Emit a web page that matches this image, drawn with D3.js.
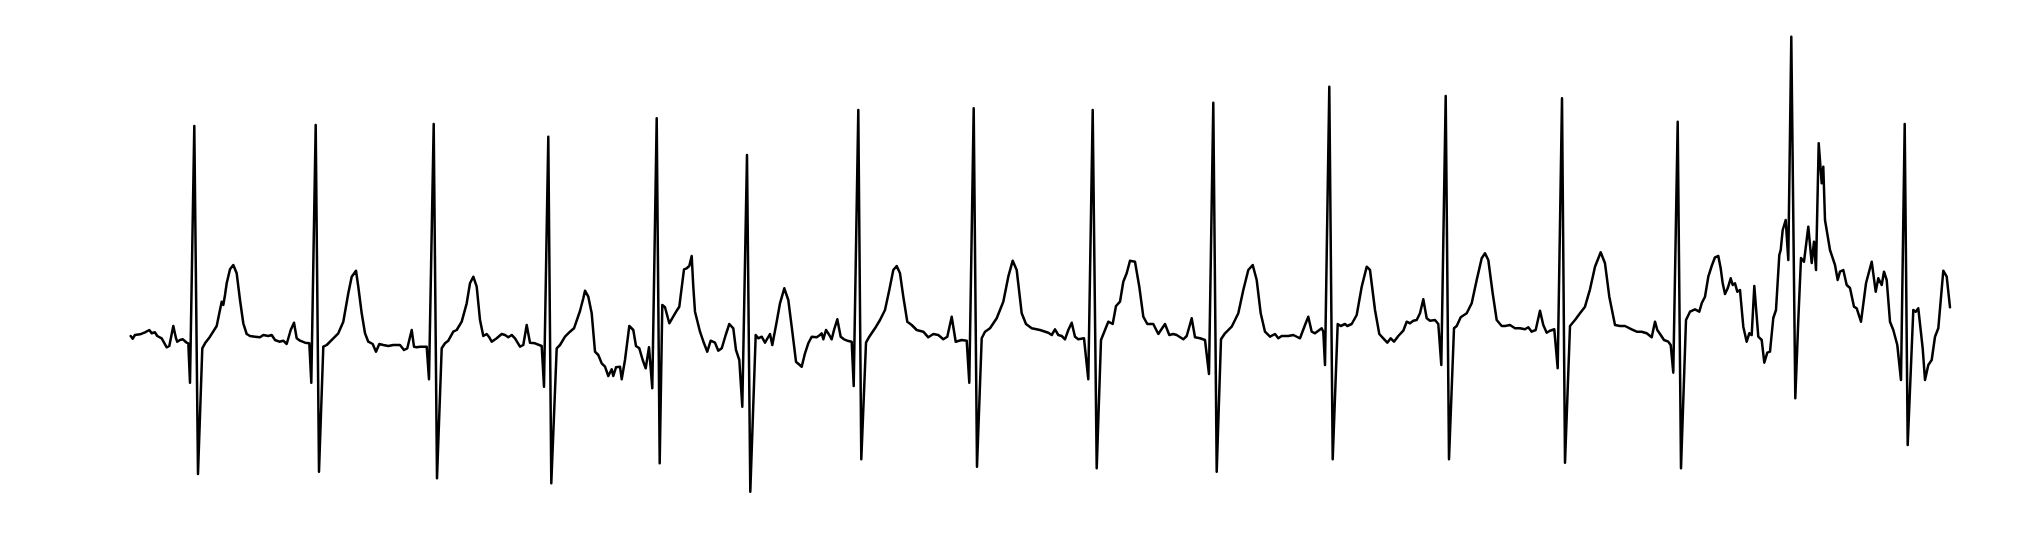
<!DOCTYPE html>
<html>
<head>
<meta charset="utf-8">
<script src="https://cdn.jsdelivr.net/npm/d3@7"></script>
<style>
html,body{margin:0;padding:0;background:#fff;}
svg{display:block;}
</style>
</head>
<body>
<svg id="chart" width="2044" height="538"></svg>
<script>
// ECG trace: sample index (time) and amplitude (mV)
const sampleIndex = [
0.7,2.7,5,10,15,19.3,21.7,25,27.3,31.7,36.7,39.3,43.3,46,47.3,50,52.7,56.7,58.3,60,64.3,68,72.3,75,80,86.7,89.3,91.7,93.3,95,96.7,100,103.3,106.7,110,113.3,116.7,120,125,130,133.3,138.3,141.7,145,149.3,153.3,156.7,160.7,164,166.7,170,175,179.3,181.3,185.7,189,193.3,196.7,203.3,208.3,213.3,218.3,221.7,226,
228.3,231.7,235,238.3,242.7,246,249.3,253.3,258.3,263.3,270,274,277.3,281.7,284,286.7,290,296.7,299,303.7,307,311.7,315,318.3,323.3,326.7,331.7,336.7,340,343.3,346.7,350,353.3,356.7,359.3,361.7,366.7,371.7,375,378.3,381.7,385,390,393.3,396.7,400,405,411.7,414,418.3,421.3,426.7,430,435,440,444,450,453.3,
455,458.3,461.7,465,468.3,471.7,475,478.3,481.7,483.3,486,490,491.7,495,499.3,503.3,506,509.3,512.7,515.7,519,522.3,526.7,529.7,532.3,535,539.3,546.7,549.3,554,556.7,559.3,561.7,563.3,565,570,574,577.3,580.7,585,588.3,591.7,595.7,599.3,603.3,606,609.3,612.3,617,620.3,625.7,628.3,631.7,635,640,642.3,646.7,650,654.3,658.3,661.7,666,671.7,675,678.3,681.7,686.7,690,
691.7,693.3,696,699.3,701.7,704,707.3,710.7,714,717.3,721.7,723.7,728.3,731.3,736,739.3,745,750,755,759.3,763.3,766.7,770,773.3,777.3,781.7,786.7,793.3,798.3,803.3,808.3,813.3,817.3,821.7,825.7,831.7,836.7,839.3,843.7,847,851.7,855,860,866.7,873.3,878.3,882.7,886.7,891.7,896,901.7,910,918.3,
921.7,925,928.3,931.7,935,938.3,941.7,945,948.3,954,958.3,962.7,966.7,971,975,978.3,982.7,986,990,993.3,996.7,1000,1005,1009.3,1013.3,1017.3,1023.3,1028.3,1035,1039.3,1043.3,1046.7,1053.3,1056.7,1061.7,1065,1070,1075,1079,1083.3,1086.7,1091,1095,1101.7,1108.3,1113.3,1118.3,1122.7,1126.7,1130.7,1135,1140,1145,1148.3,
1151.7,1158.3,1163.3,1170,1175,1178.3,1181.7,1185,1191.7,1193.3,1195,1199.3,1202.7,1207.7,1210.7,1215,1217.3,1221.7,1226.7,1231.7,1236.7,1240,1245,1249.3,1253.3,1257.3,1260.7,1264,1268.3,1273.3,1276.7,1280,1283.3,1286.7,1290,1293.3,1296.7,1300,1305,1308.3,1311.3,1315.7,1319,1324,1326.7,1330.7,1336.7,1341.7,1346.7,1351.7,1355,1358.3,1362.7,1366.7,1371.7,
1375,1380,1385,1390,1395,1398.3,1401.7,1405.7,1410,1413.3,1416.7,1420,1424.3,1427.7,1432,1435,1440,1445,1450,1455,1460,1465,1470.7,1475,1479.3,1485,1490,1495,1501.7,1506.7,1511.7,1516.7,1521.7,1525,1527.3,1530.7,1534,1538.3,1540.7,1543.3,1547.7,1551,1556,1560,1565,1569.3,1571.7,1575,1578.3,1581.7,1585,1588.3,1590.7,1592.7,1595,1597.7,1600.7,
1602.7,1605,1607.3,1610,1613.3,1616.7,1619.3,1621.7,1624.3,1628.3,1631.7,1634.3,1637.3,1640,1643.3,1646,1649.3,1650.7,1652.7,1655.7,1658.3,1661.3,1665.3,1668.3,1671,1674,1678.3,1681.7,1684,1686,1688.7,1691.7,1693.3,1695,1700,1705,1707.7,1710,1713.3,1716.7,1720,1724,1726.7,1731,1736,1741.7,1745.7,1748.3,1751.7,1754,1756.7,1760,1763.3,1767.3,1771,1774.7,1777.7,1783.3,1785.7,1788.3,1792.7,1795,1798.3,1801.7,1805,1808.3,1813.3,1816.7,1820
];
const amplitudeMv = [
0.02,-0.007,0.03,0.037,0.057,0.08,0.047,0.057,0.02,-0.003,-0.093,-0.08,0.12,-0.003,-0.037,-0.02,-0.013,-0.047,-0.053,-0.447,2.12,-1.36,-0.103,-0.053,0.013,0.12,0.247,0.363,0.33,0.43,0.547,0.687,0.73,0.647,0.38,0.147,0.04,0.02,0.013,0.007,0.03,0.02,0.03,-0.02,-0.037,-0.027,-0.06,0.08,0.153,-0.003,-0.027,-0.047,-0.053,-0.447,2.13,-1.337,-0.087,-0.07,-0.003,0.047,0.163,0.447,0.613,0.673,
0.513,0.247,0.047,-0.037,-0.06,-0.137,-0.06,-0.07,-0.08,-0.07,-0.07,-0.12,-0.103,0.08,-0.087,-0.093,-0.087,-0.087,-0.413,2.14,-1.403,-0.103,-0.053,-0.027,0.063,0.08,0.163,0.347,0.547,0.613,0.513,0.18,0.02,0.04,0.007,-0.037,-0.003,0.04,0.03,0.007,0.03,-0.003,-0.087,-0.07,0.13,-0.047,-0.053,-0.08,-0.487,2.013,-1.453,-0.103,-0.07,0.013,0.063,0.097,0.27,0.397,
0.473,0.413,0.247,-0.137,-0.17,-0.253,-0.287,-0.38,-0.313,-0.38,-0.293,-0.287,-0.413,-0.22,0.12,0.08,-0.08,-0.103,-0.22,-0.303,-0.093,-0.503,2.197,-1.253,0.33,0.307,0.147,0.273,0.313,0.687,0.697,0.72,0.82,0.513,0.263,0.063,-0.053,-0.137,-0.027,-0.047,-0.127,-0.103,0.03,0.14,0.097,-0.12,-0.22,-0.687,1.83,-1.537,0.03,-0.003,0.013,-0.047,0.04,-0.07,0.163,0.347,0.497,0.38,0.113,-0.237,-0.287,-0.153,-0.053,0.013,0.007,0.03,
0.047,-0.013,0.08,0.03,-0.013,0.08,0.187,0.013,-0.013,-0.027,-0.037,-0.48,2.28,-1.213,-0.047,0.013,0.097,0.18,0.28,0.48,0.68,0.72,0.647,0.413,0.163,0.13,0.08,0.063,0.007,0.04,0.03,-0.013,0.013,0.213,-0.037,-0.02,-0.027,-0.447,2.297,-1.287,-0.003,0.063,0.097,0.197,0.363,0.613,0.773,0.68,0.247,0.14,0.097,0.08,0.053,
0.03,0.087,0.03,0.02,-0.013,0.08,0.153,0.013,-0.013,-0.003,-0.413,2.28,-1.303,-0.02,0.08,0.163,0.14,0.32,0.363,0.563,0.647,0.773,0.763,0.513,0.213,0.14,0.14,0.04,0.14,0.03,0.04,0.03,-0.013,0.02,0.197,0.007,-0.003,-0.02,-0.36,2.353,-1.337,-0.013,0.047,0.113,0.247,0.48,0.68,0.73,0.58,0.247,0.063,0.013,0.04,-0.003,
0.02,0.02,0.03,-0.003,0.13,0.213,0.063,0.047,0.097,0.063,-0.27,2.513,-1.213,0.14,0.12,0.14,0.12,0.14,0.23,0.513,0.713,0.68,0.28,0.04,-0.003,-0.047,-0.003,-0.037,0.02,0.073,0.163,0.147,0.173,0.18,0.247,0.387,0.197,0.173,0.18,0.14,-0.27,2.42,-1.213,0.097,0.12,0.207,0.247,0.347,0.58,0.797,0.847,0.78,0.447,0.18,0.12,
0.12,0.13,0.097,0.097,0.087,0.107,0.063,0.08,0.273,0.13,0.053,0.073,0.087,-0.303,2.397,-1.247,0.12,0.18,0.247,0.313,0.487,0.713,0.857,0.747,0.413,0.13,0.12,0.12,0.087,0.063,0.063,0.047,0.007,0.163,0.08,0.03,-0.02,-0.037,-0.07,-0.347,2.163,-1.303,0.18,0.263,0.287,0.263,0.347,0.413,0.613,0.72,0.807,0.82,0.697,0.547,0.44,0.497,0.597,
0.53,0.547,0.463,0.48,0.113,-0.037,0.047,0.03,0.52,0.013,-0.02,-0.247,-0.147,-0.137,0.2,0.28,0.83,0.88,1.08,1.18,0.78,3.013,-0.603,0.18,0.8,0.763,1.113,0.75,0.963,0.68,1.947,1.547,1.713,1.18,0.88,0.73,0.58,0.663,0.68,0.53,0.5,0.313,0.297,0.163,0.547,0.763,0.463,0.597,0.53,0.663,0.58,0.163,0.08,-0.07,-0.42,2.14,-1.07,0.28,0.263,0.297,-0.103,-0.42,-0.27,-0.22,0.013,0.097,0.673,0.613,0.307
];

const W = 2044, H = 538;
const svg = d3.select('#chart');
const x = d3.scaleLinear().domain([0, 1820]).range([130, 1950]);
const y = d3.scaleLinear().domain([-2, 3.38]).range([H, 0]);

const pts = sampleIndex.map((t, i) => [t, amplitudeMv[i]]);
const line = d3.line().x(d => x(d[0])).y(d => y(d[1]));

svg.append('path')
  .datum(pts)
  .attr('d', line)
  .attr('fill', 'none')
  .attr('stroke', '#000')
  .attr('stroke-width', 2.5)
  .attr('stroke-linejoin', 'round')
  .attr('stroke-linecap', 'round');
</script>
</body>
</html>
